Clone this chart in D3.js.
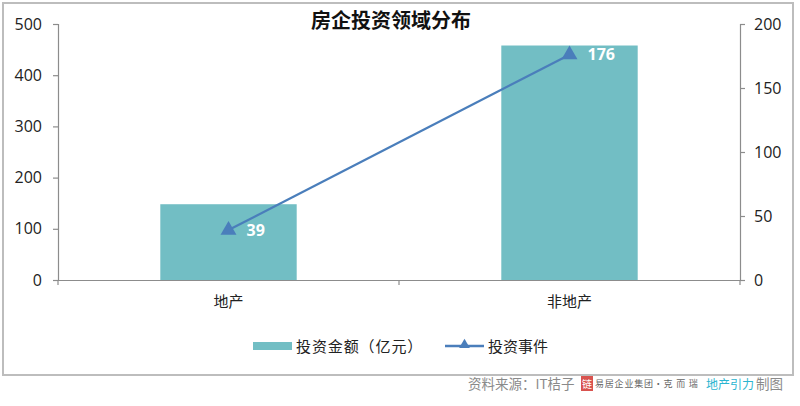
<!DOCTYPE html>
<html><head><meta charset="utf-8">
<script src="https://cdn.jsdelivr.net/npm/d3@7"></script>
<style>
html,body{margin:0;padding:0;background:#fff;}
svg{display:block;}
</style></head>
<body>
<svg id="chart" width="800" height="406"></svg>
<script>
const categories = ["地产", "非地产"];
const amounts = [148, 458];      // 投资金额（亿元）
const events = [39, 176];        // 投资事件
const leftTicks = [0, 100, 200, 300, 400, 500];
const rightTicks = [0, 50, 100, 150, 200];
const title = "房企投资领域分布";
const legendNames = ["投资金额（亿元）", "投资事件"];

const cjk = "'Noto Sans CJK SC','Noto Sans',sans-serif";
const num = "'Open Sans','Liberation Sans',sans-serif";
const barColor = "#72BEC4";
const lineColor = "#4A7EBB";
const axisColor = "#8C8C8C";

const svg = d3.select("#chart");
const L = 58, R = 740, T = 24, B = 280;

// border
svg.append("rect").attr("x", 3).attr("y", 3).attr("width", 790).attr("height", 372)
  .attr("fill", "none").attr("stroke", "#BDBDBD").attr("stroke-width", 2);

const x = d3.scaleBand().domain(categories).range([L, R]).padding(0);
const yL = d3.scaleLinear().domain([0, 500]).range([B, T]);
const yR = d3.scaleLinear().domain([0, 200]).range([B, T]);

// left axis
const gl = svg.append("g").attr("transform", `translate(${L},0)`)
  .call(d3.axisLeft(yL).tickValues(leftTicks).tickSize(5).tickPadding(11));
// right axis
const gr = svg.append("g").attr("transform", `translate(${R},0)`)
  .call(d3.axisRight(yR).tickValues(rightTicks).tickSize(5).tickPadding(9));
[gl, gr].forEach(g => {
  g.select(".domain").attr("stroke", axisColor).attr("stroke-width", 1.2);
  g.selectAll(".tick line").attr("stroke", axisColor).attr("stroke-width", 1.2);
  g.selectAll(".tick text").attr("fill", "#222").style("font-family", num).style("font-size", "16px");
});

// bars
const bw = x.bandwidth() * 0.4;
svg.append("g").selectAll("rect").data(categories).join("rect")
  .attr("x", d => x(d) + x.bandwidth() / 2 - bw / 2)
  .attr("y", (d, i) => yL(amounts[i]))
  .attr("width", bw)
  .attr("height", (d, i) => B - yL(amounts[i]))
  .attr("fill", barColor);

// x axis
const gx = svg.append("g").attr("transform", `translate(0,${B})`)
  .call(d3.axisBottom(x).tickSize(0).tickPadding(16));
gx.select(".domain").attr("stroke", axisColor).attr("stroke-width", 1.2);
gx.selectAll(".tick text").attr("fill", "#222").style("font-family", cjk).style("font-size", "15px");
// category separators tick marks
const seps = [L, L + x.step(), R];
svg.append("g").selectAll("line").data(seps).join("line")
  .attr("x1", d => d).attr("x2", d => d).attr("y1", B).attr("y2", B + 5)
  .attr("stroke", axisColor).attr("stroke-width", 1.2);

// line
const cx = (d) => x(d) + x.bandwidth() / 2;
const line = d3.line().x((d, i) => cx(categories[i])).y(d => yR(d));
svg.append("path").datum(events).attr("d", line)
  .attr("fill", "none").attr("stroke", lineColor).attr("stroke-width", 2.2);
const tri = d3.symbol().type(d3.symbolTriangle).size(110);
svg.append("g").selectAll("path").data(events).join("path")
  .attr("d", tri)
  .attr("transform", (d, i) => `translate(${cx(categories[i])},${yR(d)})`)
  .attr("fill", lineColor);
svg.append("g").selectAll("text").data(events).join("text")
  .attr("x", (d, i) => cx(categories[i]) + 18)
  .attr("y", d => yR(d) + 5.5)
  .attr("fill", "#fff").attr("font-weight", "bold")
  .style("font-family", num).style("font-size", "16px")
  .text(d => d);

// title
svg.append("text").attr("x", 391).attr("y", 28).attr("text-anchor", "middle")
  .attr("font-weight", "bold").attr("fill", "#111")
  .style("font-family", cjk).style("font-size", "20px").text(title);

// legend
const ly = 346;
svg.append("rect").attr("x", 253).attr("y", ly - 4).attr("width", 39).attr("height", 8).attr("fill", barColor);
svg.append("text").attr("x", 296).attr("y", ly + 5.5).attr("fill", "#222")
  .style("font-family", cjk).style("font-size", "15px").style("letter-spacing", "0.9px").text(legendNames[0]);
svg.append("line").attr("x1", 445).attr("x2", 484).attr("y1", ly).attr("y2", ly)
  .attr("stroke", lineColor).attr("stroke-width", 2.5);
svg.append("path").attr("d", d3.symbol().type(d3.symbolTriangle).size(50))
  .attr("transform", `translate(464.5,${ly - 1})`).attr("fill", lineColor);
svg.append("text").attr("x", 488).attr("y", ly + 5.5).attr("fill", "#222")
  .style("font-family", cjk).style("font-size", "15px").text(legendNames[1]);

// source line
const sy = 389;
svg.append("text").attr("x", 468).attr("y", sy).attr("fill", "#8A8A8A")
  .style("font-family", cjk).style("font-size", "13.5px").text("资料来源：IT桔子");
svg.append("rect").attr("x", 581).attr("y", 376).attr("width", 12).attr("height", 15).attr("fill", "#D9534F");
svg.append("text").attr("x", 587).attr("y", 388).attr("text-anchor", "middle").attr("fill", "#fff")
  .style("font-family", cjk).style("font-size", "10px").text("链");
svg.append("text").attr("x", 595).attr("y", 387).attr("fill", "#666")
  .style("font-family", cjk).style("font-size", "9px").style("letter-spacing", "0.8px").text("易居企业集团·克 而 瑞");
svg.append("text").attr("x", 706).attr("y", 389).attr("fill", "#2BB5D0")
  .style("font-family", cjk).style("font-size", "12px").text("地产引力");
svg.append("text").attr("x", 756).attr("y", sy).attr("fill", "#8A8A8A")
  .style("font-family", cjk).style("font-size", "13.5px").text("制图");
</script>
</body></html>
